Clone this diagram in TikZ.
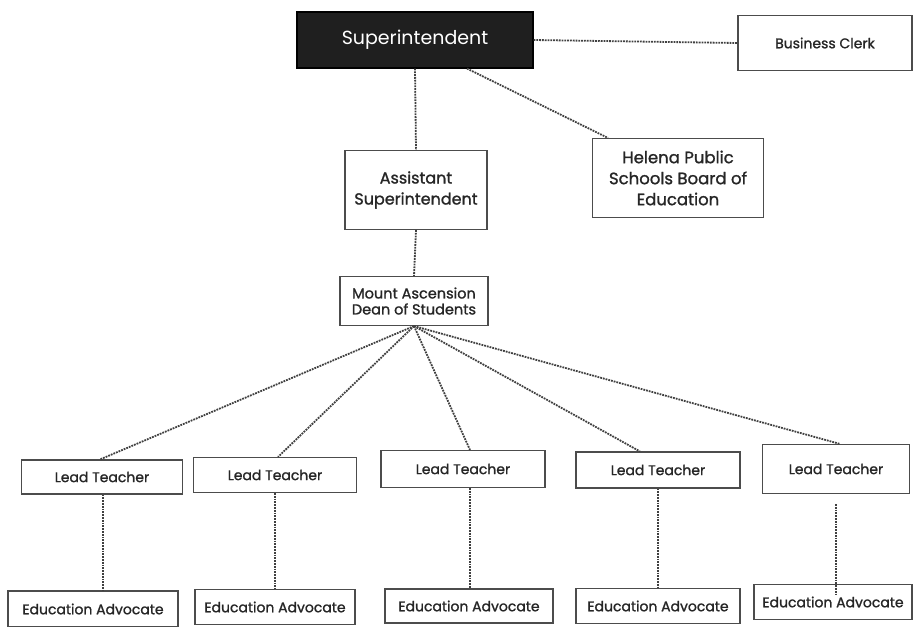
\documentclass[tikz,border=0pt]{standalone}
\usepackage{fontspec}
\setmainfont{Poppins}[BoldFont={Poppins}, BoldFeatures={FakeBold=1.2}]
\begin{document}
\begin{tikzpicture}[x=1pt,y=-1pt,
    box/.style={draw=black!70, line width=1.1pt, fill=white, inner sep=2pt, align=center, text=black!85},
    small/.style={font=\bfseries\fontsize{14}{16}\selectfont},
    link/.style={densely dotted, line width=1.8pt, black!75}]
   		\useasboundingbox (0,0) rectangle (914,627);
   		% top
   		\node[box, fill=black!88, draw=black, text=white, minimum width=236, minimum height=56, font=\fontsize{19}{22}\selectfont] (sup) at (415,40) {Superintendent};
   		\node[box, small, minimum width=174, minimum height=55] (clerk) at (825,43) {Business Clerk};
   		\node[box, minimum width=171, minimum height=79, font=\bfseries\fontsize{16.5}{21}\selectfont] (board) at (678,178) {Helena Public\\Schools Board of\\Education};
   		\node[box, minimum width=142, minimum height=79, font=\bfseries\fontsize{16}{21}\selectfont] (asst) at (416,190) {Assistant\\Superintendent};
   		\node[box, minimum width=148, minimum height=49, font=\bfseries\fontsize{14.5}{16}\selectfont] (dean) at (414,301) {Mount Ascension\\Dean of Students};
   		% lead teachers
   		\node[box, small, minimum width=161, minimum height=34] (lead1) at (102,477) {Lead Teacher};
   		\node[box, small, minimum width=163, minimum height=35] (lead2) at (275,475) {Lead Teacher};
   		\node[box, small, minimum width=164, minimum height=37] (lead3) at (463,469) {Lead Teacher};
   		\node[box, small, minimum width=164, minimum height=36] (lead4) at (658,470) {Lead Teacher};
   		\node[box, small, minimum width=147, minimum height=49] (lead5) at (836,469) {Lead Teacher};
   		% advocates
   		\node[box, small, minimum width=170, minimum height=36] (edu1) at (93,609) {Education Advocate};
   		\node[box, small, minimum width=160, minimum height=35] (edu2) at (275,607) {Education Advocate};
   		\node[box, small, minimum width=168, minimum height=34] (edu3) at (469,606) {Education Advocate};
   		\node[box, small, minimum width=164, minimum height=35] (edu4) at (658,606) {Education Advocate};
   		\node[box, small, minimum width=158, minimum height=35] (edu5) at (833,602) {Education Advocate};
   		% links
   		\draw[link] (sup.east) -- (clerk.west);
   		\draw[link] ([xshift=52]sup.south) -- ([xshift=-70]board.north);
   		\draw[link] (sup.south) -- (asst.north);
   		\draw[link] (asst.south) -- (dean.north);
   		\draw[link] (dean.south) -- ([xshift=-2]lead1.north);
   		\draw[link] (dean.south) -- ([xshift=3]lead2.north);
   		\draw[link] (dean.south) -- ([xshift=7]lead3.north);
   		\draw[link] (dean.south) -- ([xshift=-18]lead4.north);
   		\draw[link] (dean.south) -- ([xshift=4]lead5.north);
   		\draw[link] ([xshift=1]lead1.south) -- ([xshift=1]lead1.south |- edu1.north);
   		\draw[link] (lead2.south) -- (lead2.south |- edu2.north);
   		\draw[link] ([xshift=7]lead3.south) -- ([xshift=7]lead3.south |- edu3.north);
   		\draw[link] (lead4.south) -- (lead4.south |- edu4.north);
   		\draw[link] ([yshift=-10]lead5.south) -- ([yshift=-10]lead5.south |- edu5.north);
   	\end{tikzpicture}
\end{document}
